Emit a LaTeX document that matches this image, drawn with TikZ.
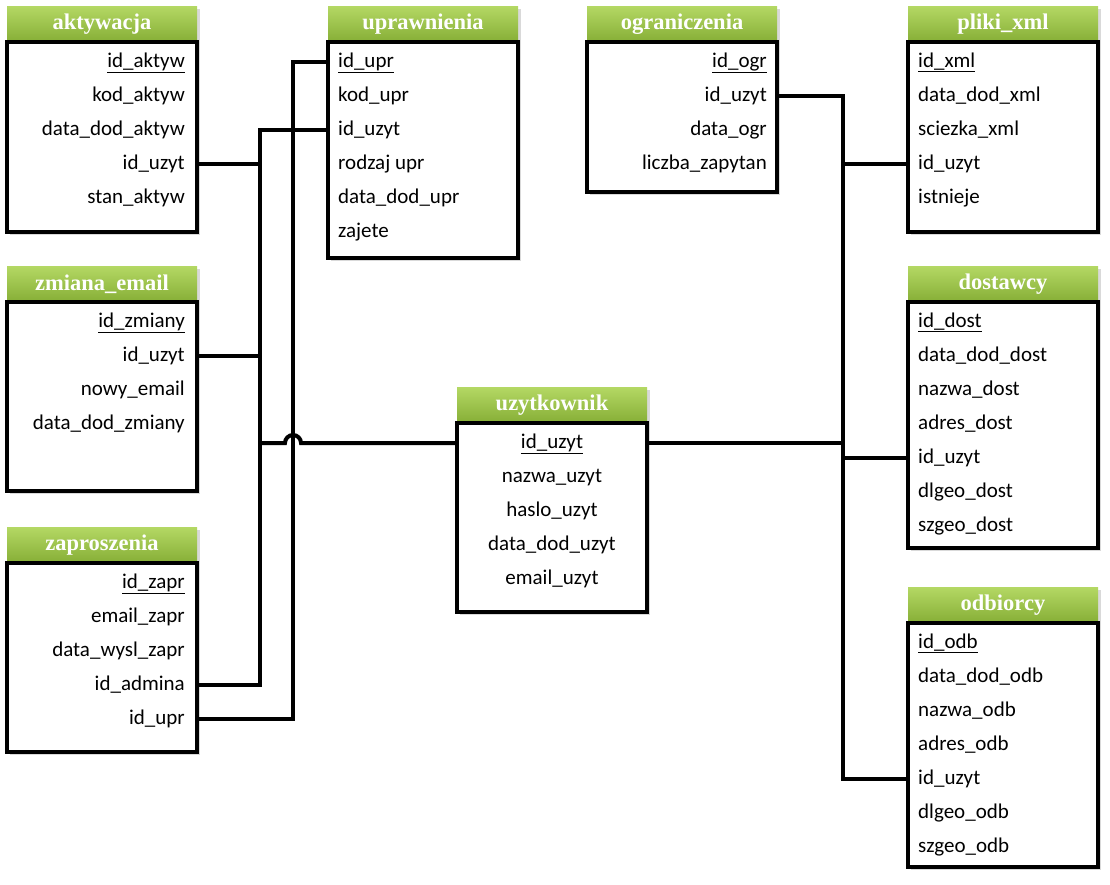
\documentclass[tikz,border=0pt]{standalone}
\usepackage{fontspec}
\setmainfont{Carlito}
\newfontfamily\naglowekfont{Liberation Serif}
\usetikzlibrary{calc,shadows}
\definecolor{zielonyjasny}{RGB}{180,216,100}
\definecolor{zielonyciemny}{RGB}{134,174,54}
\tikzset{
	cien/.style={drop shadow={opacity=0.3, shadow xshift=3pt, shadow yshift=-3pt}},
	naglowek/.style={top color=zielonyjasny, bottom color=zielonyciemny, text=white, minimum width=190pt, minimum height=36pt, inner sep=0pt, outer sep=0pt, font=\naglowekfont\bfseries\fontsize{22.5}{26}\selectfont, cien},
	cialo/.style={draw, fill=white, line width=3.5pt, minimum width=190pt, inner sep=0pt, outer sep=0pt, cien},
	pole/.style={inner sep=0pt, text height=1.2em, text depth=0.15em, font=\fontsize{21}{25}\selectfont},
	polaczenie/.style={line width=4pt}
}
% tabela: nazwa, x, y, wysokosc, tytul, kotwica, przesuniecie, pola
\def\tabela#1#2#3#4#5#6#7#8{%
	\node[naglowek, anchor=north west] (#1) at (#2,#3) {#5};
	\node[cialo, anchor=north west, minimum height=#4pt] (#1-b) at (#1.south west) {};
	\foreach \f [count=\i] in {#8}
		\node[pole, anchor=#6] (#1-\i) at (#2+#7, #3+36+20+34*\i-34) {\ifnum\i=1 \underline{\f}\else\f\fi};
}

\begin{document}
\begin{tikzpicture}[x=1pt, y=-1pt]
			%%%%% START %%%%%
			
			\useasboundingbox (0,0) rectangle (1110,884);
			
			\tabela{akt}{7}{6}{190}{aktywacja}{east}{178}{id\_aktyw, kod\_aktyw, data\_dod\_aktyw, id\_uzyt, stan\_aktyw}
			\tabela{zmi}{7}{266}{189}{zmiana\_email}{east}{178}{id\_zmiany, id\_uzyt, nowy\_email, data\_dod\_zmiany}
			\tabela{zap}{7}{527}{189}{zaproszenia}{east}{178}{id\_zapr, email\_zapr, data\_wysl\_zapr, id\_admina, id\_upr}
			
			\tabela{upr}{328}{6}{216}{uprawnienia}{west}{10}{id\_upr, kod\_upr, id\_uzyt, rodzaj upr, data\_dod\_upr, zajete}
			\tabela{ogr}{587}{6}{150}{ograniczenia}{east}{180}{id\_ogr, id\_uzyt, data\_ogr, liczba\_zapytan}
			\tabela{uzy}{457}{387}{189}{uzytkownik}{center}{95}{id\_uzyt, nazwa\_uzyt, haslo\_uzyt, data\_dod\_uzyt, email\_uzyt}
			
			\tabela{pli}{908}{6}{190}{pliki\_xml}{west}{10}{id\_xml, data\_dod\_xml, sciezka\_xml, id\_uzyt, istnieje}
			\tabela{dos}{908}{266}{246}{dostawcy}{west}{10}{id\_dost, data\_dod\_dost, nazwa\_dost, adres\_dost, id\_uzyt, dlgeo\_dost, szgeo\_dost}
			\tabela{odb}{908}{587}{244}{odbiorcy}{west}{10}{id\_odb, data\_dod\_odb, nazwa\_odb, adres\_odb, id\_uzyt, dlgeo\_odb, szgeo\_odb}
			
			\coordinate (szyna1) at (260,0);
			\coordinate (szyna2) at (293,0);
			\coordinate (szyna3) at (843,0);
			
			\draw[polaczenie] (upr-b.west |- upr-3) -| (szyna1 |- zap-4) -- (zap-b.east |- zap-4);
			\draw[polaczenie] (akt-b.east |- akt-4) -- (szyna1 |- akt-4);
			\draw[polaczenie] (zmi-b.east |- zmi-2) -- (szyna1 |- zmi-2);
			\draw[polaczenie] (upr-b.west |- upr-1) -| (szyna2 |- zap-5) -- (zap-b.east |- zap-5);
			\draw[polaczenie] (szyna1 |- uzy-1) -- ($(szyna2 |- uzy-1)+(-8,0)$) arc[start angle=180, end angle=0, radius=8pt] -- (uzy-b.west |- uzy-1);
			
			\draw[polaczenie] (ogr-b.east |- ogr-2) -| (szyna3 |- odb-5) -- (odb-b.west |- odb-5);
			\draw[polaczenie] (uzy-b.east |- uzy-1) -- (szyna3 |- uzy-1);
			\draw[polaczenie] (szyna3 |- pli-4) -- (pli-b.west |- pli-4);
			\draw[polaczenie] (szyna3 |- dos-5) -- (dos-b.west |- dos-5);
			
			%%%%% END %%%%%
\end{tikzpicture}
\end{document}
